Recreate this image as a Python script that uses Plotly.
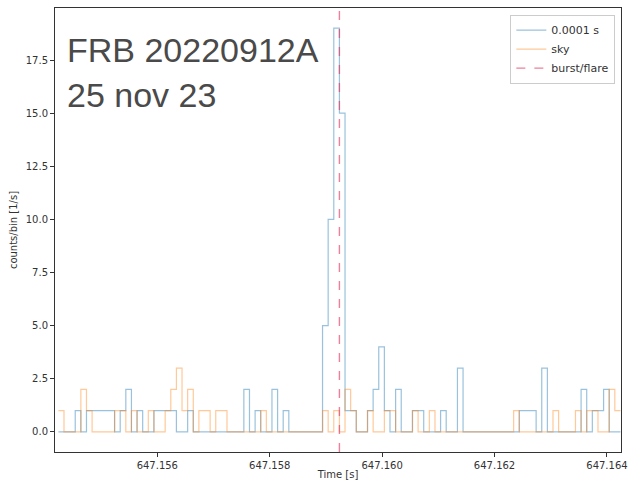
import numpy as np
import plotly.graph_objects as go

# Bin start times (0.0001 s bins)
t_start = 647.15424
bin_width = 0.0001
n_bins = 100

# Counts per bin, burst light curve (0.0001 s)
burst_counts = [0, 0, 0, 1, 0, 1, 1, 1, 1, 1,
                0, 1, 2, 0, 1, 0, 0, 1, 1, 1,
                1, 0, 0, 1, 0, 0, 0, 0, 0, 0,
                0, 0, 0, 2, 0, 1, 0, 0, 2, 0,
                1, 0, 0, 0, 0, 0, 0, 5, 10, 19,
                15, 1, 1, 0, 0, 1, 2, 4, 1, 0,
                2, 0, 0, 1, 1, 0, 0, 0, 1, 0,
                0, 3, 0, 0, 0, 0, 0, 0, 0, 0,
                0, 0, 1, 1, 1, 0, 3, 0, 0, 0,
                0, 0, 0, 2, 0, 1, 1, 2, 0, 0]

# Counts per bin, sky
sky_counts = [1, 0, 0, 0, 2, 1, 0, 0, 0, 0,
              1, 1, 0, 1, 0, 0, 1, 0, 0, 1,
              2, 3, 1, 2, 0, 1, 1, 0, 1, 1,
              0, 0, 0, 0, 0, 0, 1, 0, 0, 0,
              0, 0, 0, 0, 0, 0, 0, 1, 0, 1,
              0, 2, 1, 0, 0, 1, 0, 0, 1, 1,
              0, 0, 0, 1, 0, 0, 1, 0, 0, 0,
              0, 0, 0, 0, 0, 0, 0, 0, 0, 0,
              0, 1, 0, 0, 0, 0, 0, 0, 1, 0,
              0, 0, 1, 0, 1, 1, 0, 0, 2, 1]

burst_time = 647.15924

x_ticks = [647.156, 647.158, 647.160, 647.162, 647.164]
y_ticks = [0.0, 2.5, 5.0, 7.5, 10.0, 12.5, 15.0, 17.5]

edges = np.round(t_start + bin_width * np.arange(n_bins + 1), 6)
x_step = list(edges)
y_burst = burst_counts + [burst_counts[-1]]
y_sky = sky_counts + [sky_counts[-1]]

y_lo, y_hi = -0.95, 19.95

fig = go.Figure()
fig.add_trace(go.Scatter(x=x_step, y=y_burst, mode="lines", line_shape="hv",
                         line=dict(color="rgba(31,119,180,0.45)", width=1.2),
                         name="0.0001 s"))
fig.add_trace(go.Scatter(x=x_step, y=y_sky, mode="lines", line_shape="hv",
                         line=dict(color="rgba(255,127,14,0.42)", width=1.2),
                         name="sky"))
fig.add_trace(go.Scatter(x=[burst_time, burst_time], y=[y_lo, y_hi], mode="lines",
                         line=dict(color="rgba(225,45,90,0.6)", width=1.4, dash="dash"),
                         name="burst/flare"))

axis_common = dict(showline=True, linecolor="#333", linewidth=1, mirror=True,
                   ticks="outside", ticklen=4, tickcolor="#333", showgrid=False,
                   zeroline=False, tickfont=dict(size=10, color="#333"))

fig.update_xaxes(range=[647.15418, 647.16425], tickvals=x_ticks,
                 ticktext=[f"{v:.3f}" for v in x_ticks],
                 title=dict(text="Time [s]", font=dict(size=10, color="#333"), standoff=0),
                 **axis_common)
fig.update_yaxes(range=[y_lo, y_hi], tickvals=y_ticks,
                 ticktext=[f"{v:.1f}" for v in y_ticks],
                 title=dict(text="counts/bin [1/s]", font=dict(size=10, color="#333"), standoff=6),
                 **axis_common)

fig.add_annotation(x=0.017, y=0.906, xref="paper", yref="paper", xanchor="left",
                   yanchor="middle", text="FRB 20220912A", showarrow=False,
                   font=dict(family="Liberation Sans, Arial", size=34, color="#4a4a4a"))
fig.add_annotation(x=0.017, y=0.805, xref="paper", yref="paper", xanchor="left",
                   yanchor="middle", text="25 nov 23", showarrow=False,
                   font=dict(family="Liberation Sans, Arial", size=34, color="#4a4a4a"))

fig.update_layout(
    width=635, height=487,
    margin=dict(l=55, r=11, t=7, b=35),
    paper_bgcolor="white", plot_bgcolor="white",
    font=dict(family="DejaVu Sans, Liberation Sans, Arial", color="#333"),
    legend=dict(x=0.99, y=0.985, xanchor="right", yanchor="top",
                bgcolor="rgba(255,255,255,0.85)", bordercolor="#ccc", borderwidth=1,
                font=dict(size=11, color="#333"), tracegroupgap=0, itemwidth=30),
    showlegend=True,
)

fig.write_html("out.html")
